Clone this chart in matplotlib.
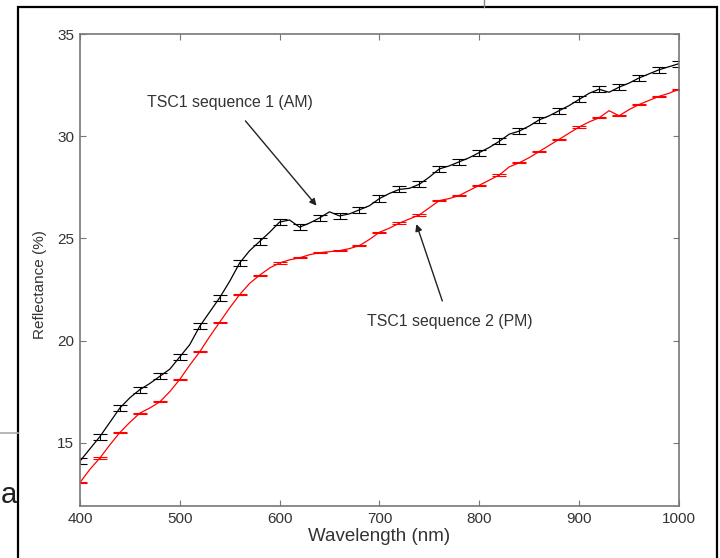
import numpy as np
import matplotlib.pyplot as plt
from matplotlib.patches import Rectangle
from matplotlib.lines import Line2D

plt.rcParams['font.family'] = ['Liberation Sans', 'DejaVu Sans']

# wavelength grid (nm)
wl = np.arange(400, 1001, 10)

# TSC1 sequence 1 (AM), reflectance in %
am = [14.1, 14.7, 15.3, 16.0, 16.7, 17.2, 17.6, 17.9, 18.25, 18.6,
      19.2, 19.8, 20.7, 21.4, 22.1, 22.9, 23.8, 24.4, 24.85, 25.3,
      25.8, 25.9, 25.55, 25.75, 26.0, 26.3, 26.1, 26.2, 26.4, 26.6,
      26.95, 27.2, 27.4, 27.45, 27.65, 28.0, 28.4, 28.55, 28.75, 28.95,
      29.2, 29.45, 29.75, 30.1, 30.25, 30.5, 30.8, 31.0, 31.25, 31.5,
      31.8, 32.1, 32.3, 32.15, 32.4, 32.6, 32.85, 33.05, 33.25, 33.4,
      33.55]

# TSC1 sequence 2 (PM)
pm = [13.05, 13.7, 14.25, 14.9, 15.5, 16.0, 16.45, 16.7, 17.0, 17.5,
      18.1, 18.8, 19.45, 20.2, 20.9, 21.6, 22.25, 22.8, 23.2, 23.55,
      23.8, 23.95, 24.05, 24.2, 24.3, 24.35, 24.4, 24.5, 24.65, 24.95,
      25.3, 25.5, 25.75, 25.95, 26.15, 26.5, 26.85, 26.95, 27.1, 27.35,
      27.6, 27.85, 28.1, 28.5, 28.7, 28.95, 29.25, 29.55, 29.85, 30.15,
      30.45, 30.7, 30.9, 31.25, 31.0, 31.3, 31.55, 31.75, 31.95, 32.1,
      32.3]

am_err = 0.15
pm_err = 0.03

fig = plt.figure(figsize=(7.2, 5.58), dpi=100)
ax = fig.add_axes([0.111, 0.093, 0.832, 0.846])

ax.errorbar(wl, am, yerr=am_err, errorevery=2, color='black', lw=0.9,
            elinewidth=0.8, capsize=4.7, capthick=0.8)
ax.errorbar(wl, pm, yerr=pm_err, errorevery=2, color='red', lw=0.9,
            elinewidth=0.8, capsize=4.7, capthick=0.8)

ax.set_xlim(400, 1000)
ax.set_ylim(11.9, 35)
ax.set_xticks(np.arange(400, 1001, 100))
ax.set_yticks([15, 20, 25, 30, 35])

grey = '#777777'
txt = '#333333'
for s in ax.spines.values():
    s.set_color(grey)
    s.set_linewidth(1.2)
ax.tick_params(direction='in', top=True, right=True, length=4, width=0.8,
               color=grey, labelcolor=txt, labelsize=11, pad=4)

ax.set_xlabel('Wavelength (nm)', fontsize=13.5, color=txt, labelpad=2)
ax.set_ylabel('Reflectance (%)', fontsize=11, color=txt)
ax.yaxis.set_label_coords(-0.055, 0.47)

ax.annotate('TSC1 sequence 1 (AM)', xy=(637, 26.6), xytext=(550, 31.67),
            ha='center', va='center', fontsize=11.4, color=txt,
            arrowprops=dict(arrowstyle='-|>', color='#222222', lw=1.0,
                            mutation_scale=10, shrinkA=8, shrinkB=0))
ax.annotate('TSC1 sequence 2 (PM)', xy=(737, 25.7), xytext=(770, 20.92),
            ha='center', va='center', fontsize=11.4, color=txt,
            arrowprops=dict(arrowstyle='-|>', color='#222222', lw=1.0,
                            mutation_scale=10, shrinkA=8, shrinkB=0))

# screenshot frame and leftovers around it
W, H = 720, 558
fig.patches.append(Rectangle((18 / W, -0.01), (717 - 18) / W, (H - 7) / H + 0.01,
                             transform=fig.transFigure, fill=False,
                             edgecolor='black', lw=1.6))
fig.lines.append(Line2D([0, 18 / W], [1 - 433 / H] * 2, transform=fig.transFigure,
                        color='#aaaaaa', lw=1.2))
fig.lines.append(Line2D([484 / W] * 2, [1, 1 - 7 / H], transform=fig.transFigure,
                        color='#888888', lw=1.0))
fig.text(1 / W, 1 - 495 / H, 'a', fontsize=21, ha='left', va='center',
         color='#222222')

fig.savefig('out.png', dpi=100)
